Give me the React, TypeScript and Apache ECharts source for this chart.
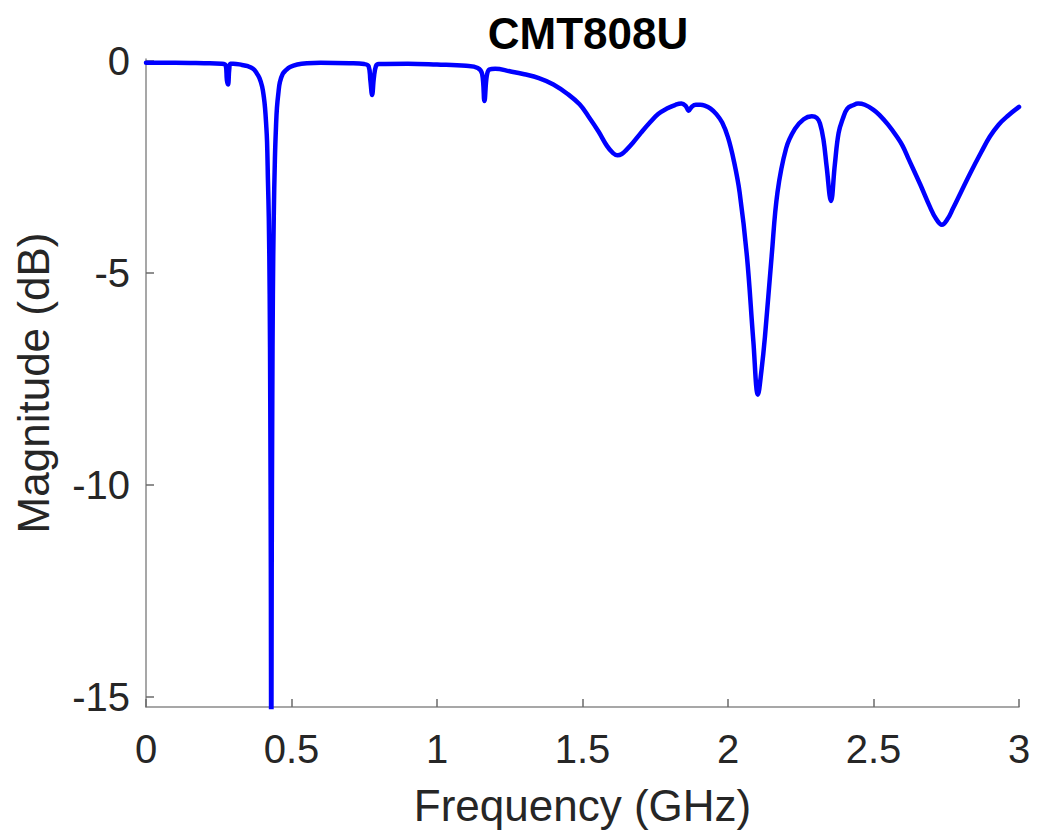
import React, { useEffect, useRef } from "react";
import * as echarts from "echarts";

const TITLE = "CMT808U";
const X_NAME = "Frequency (GHz)";
const Y_NAME = "Magnitude (dB)";
const Y_TICKS = [-15, -10, -5, 0];

const freqGHz = [
  0.0, 0.1, 0.2, 0.26, 0.274, 0.278, 0.282, 0.286, 0.29, 0.3, 0.33, 0.35, 0.368, 0.38, 0.39, 0.399,
  0.405, 0.409, 0.413, 0.416, 0.419, 0.422, 0.425, 0.427, 0.429, 0.4305, 0.432, 0.434, 0.436, 0.439,
  0.443, 0.447, 0.45, 0.455, 0.46, 0.47, 0.48, 0.495, 0.52, 0.553, 0.6, 0.7, 0.75, 0.765, 0.771,
  0.777, 0.783, 0.79, 0.8, 0.9, 1.0, 1.1, 1.14, 1.155, 1.163, 1.171, 1.18, 1.2, 1.25, 1.3, 1.35,
  1.4, 1.45, 1.49, 1.52, 1.555, 1.584, 1.605, 1.62, 1.635, 1.65, 1.674, 1.7, 1.73, 1.76, 1.79,
  1.82, 1.84, 1.855, 1.865, 1.875, 1.89, 1.905, 1.92, 1.94, 1.96, 1.98, 2.0, 2.02, 2.04, 2.065,
  2.087, 2.103, 2.115, 2.127, 2.15, 2.17, 2.2, 2.23, 2.26, 2.288, 2.305, 2.316, 2.328, 2.339,
  2.354, 2.367, 2.38, 2.395, 2.41, 2.43, 2.447, 2.47, 2.5, 2.52, 2.55, 2.58, 2.6, 2.62, 2.66,
  2.694, 2.715, 2.735, 2.755, 2.773, 2.8, 2.832, 2.87, 2.9, 2.93, 2.96, 3.0,
];

const magDb = [
  -0.04, -0.04, -0.05, -0.06, -0.1, -0.45, -0.55, -0.2, -0.06, -0.06, -0.09, -0.12, -0.18, -0.28,
  -0.4, -0.6, -0.85, -1.1, -1.5, -1.9, -2.8, -3.7, -5.5, -8, -12, -18, -12, -8, -5.5, -3.7, -2.3,
  -1.5, -1.1, -0.75, -0.5, -0.3, -0.22, -0.14, -0.08, -0.05, -0.04, -0.05, -0.07, -0.12, -0.45,
  -0.8, -0.4, -0.12, -0.07, -0.06, -0.08, -0.11, -0.16, -0.3, -0.94, -0.35, -0.2, -0.18, -0.24,
  -0.31, -0.4, -0.55, -0.78, -1.02, -1.3, -1.66, -2.0, -2.17, -2.22, -2.19, -2.1, -1.92, -1.7,
  -1.46, -1.25, -1.12, -1.03, -1.0, -1.06, -1.17, -1.08, -1.03, -1.03, -1.05, -1.12, -1.25,
  -1.45, -1.8, -2.35, -3.1, -4.6, -6.6, -7.87, -7.3, -6.5, -4.6, -3.1, -2.05, -1.6, -1.37, -1.3,
  -1.34, -1.47, -1.85, -2.49, -3.3, -2.45, -1.7, -1.35, -1.12, -1.04, -1.0, -1.03, -1.15, -1.27,
  -1.5, -1.78, -2.0, -2.3, -2.9, -3.44, -3.72, -3.86, -3.72, -3.48, -3.1, -2.65, -2.15, -1.78,
  -1.5, -1.3, -1.08,
];

const FONT = "'Liberation Sans', Arial, Helvetica, sans-serif";

export default function App() {
  const ref = useRef<HTMLDivElement>(null);

  useEffect(() => {
    document.body.style.margin = "0";
    if (!ref.current) return;
    const chart = echarts.init(ref.current, undefined, { renderer: "svg" });
    const data = freqGHz.map((f, i) => [f, magDb[i]]);
    chart.setOption({
      animation: false,
      backgroundColor: "#ffffff",
      title: {
        text: TITLE,
        left: 583,
        top: 6,
        textAlign: "center",
        textStyle: { fontFamily: FONT, fontSize: 44, fontWeight: "bold", color: "#000000" },
      },
      grid: { left: 146, right: 21, top: 59, bottom: 129, containLabel: false },
      xAxis: {
        type: "value",
        min: 0,
        max: 3,
        interval: 0.5,
        name: X_NAME,
        nameLocation: "middle",
        nameGap: 76,
        nameTextStyle: { fontFamily: FONT, fontSize: 44, color: "#262626", verticalAlign: "top" },
        axisLine: { show: true, onZero: false, lineStyle: { color: "#8a8a8a", width: 1.5 } },
        axisTick: { show: true, inside: true, length: 8, lineStyle: { color: "#6a6a6a", width: 1.5 } },
        axisLabel: {
          fontFamily: FONT,
          fontSize: 40,
          color: "#262626",
          margin: 22,
          formatter: (v: number) => String(v),
        },
        splitLine: { show: false },
      },
      yAxis: {
        type: "value",
        min: -15.24,
        max: 0.05,
        name: Y_NAME,
        nameLocation: "middle",
        nameGap: 91,
        nameTextStyle: { fontFamily: FONT, fontSize: 44, color: "#262626" },
        axisLine: { show: true, onZero: false, lineStyle: { color: "#8a8a8a", width: 1.5 } },
        axisTick: {
          show: true,
          inside: true,
          length: 8,
          customValues: Y_TICKS,
          lineStyle: { color: "#6a6a6a", width: 1.5 },
        },
        axisLabel: {
          fontFamily: FONT,
          fontSize: 40,
          color: "#262626",
          margin: 16,
          customValues: Y_TICKS,
          formatter: (v: number) => String(v),
        },
        splitLine: { show: false },
      },
      series: [
        {
          type: "line",
          data,
          showSymbol: false,
          symbol: "none",
          smooth: 0.4,
          clip: true,
          lineStyle: { color: "#0000ff", width: 4.5, cap: "round", join: "round" },
        },
      ],
    });
    return () => chart.dispose();
  }, []);

  return <div ref={ref} style={{ width: 1040, height: 836 }} />;
}
